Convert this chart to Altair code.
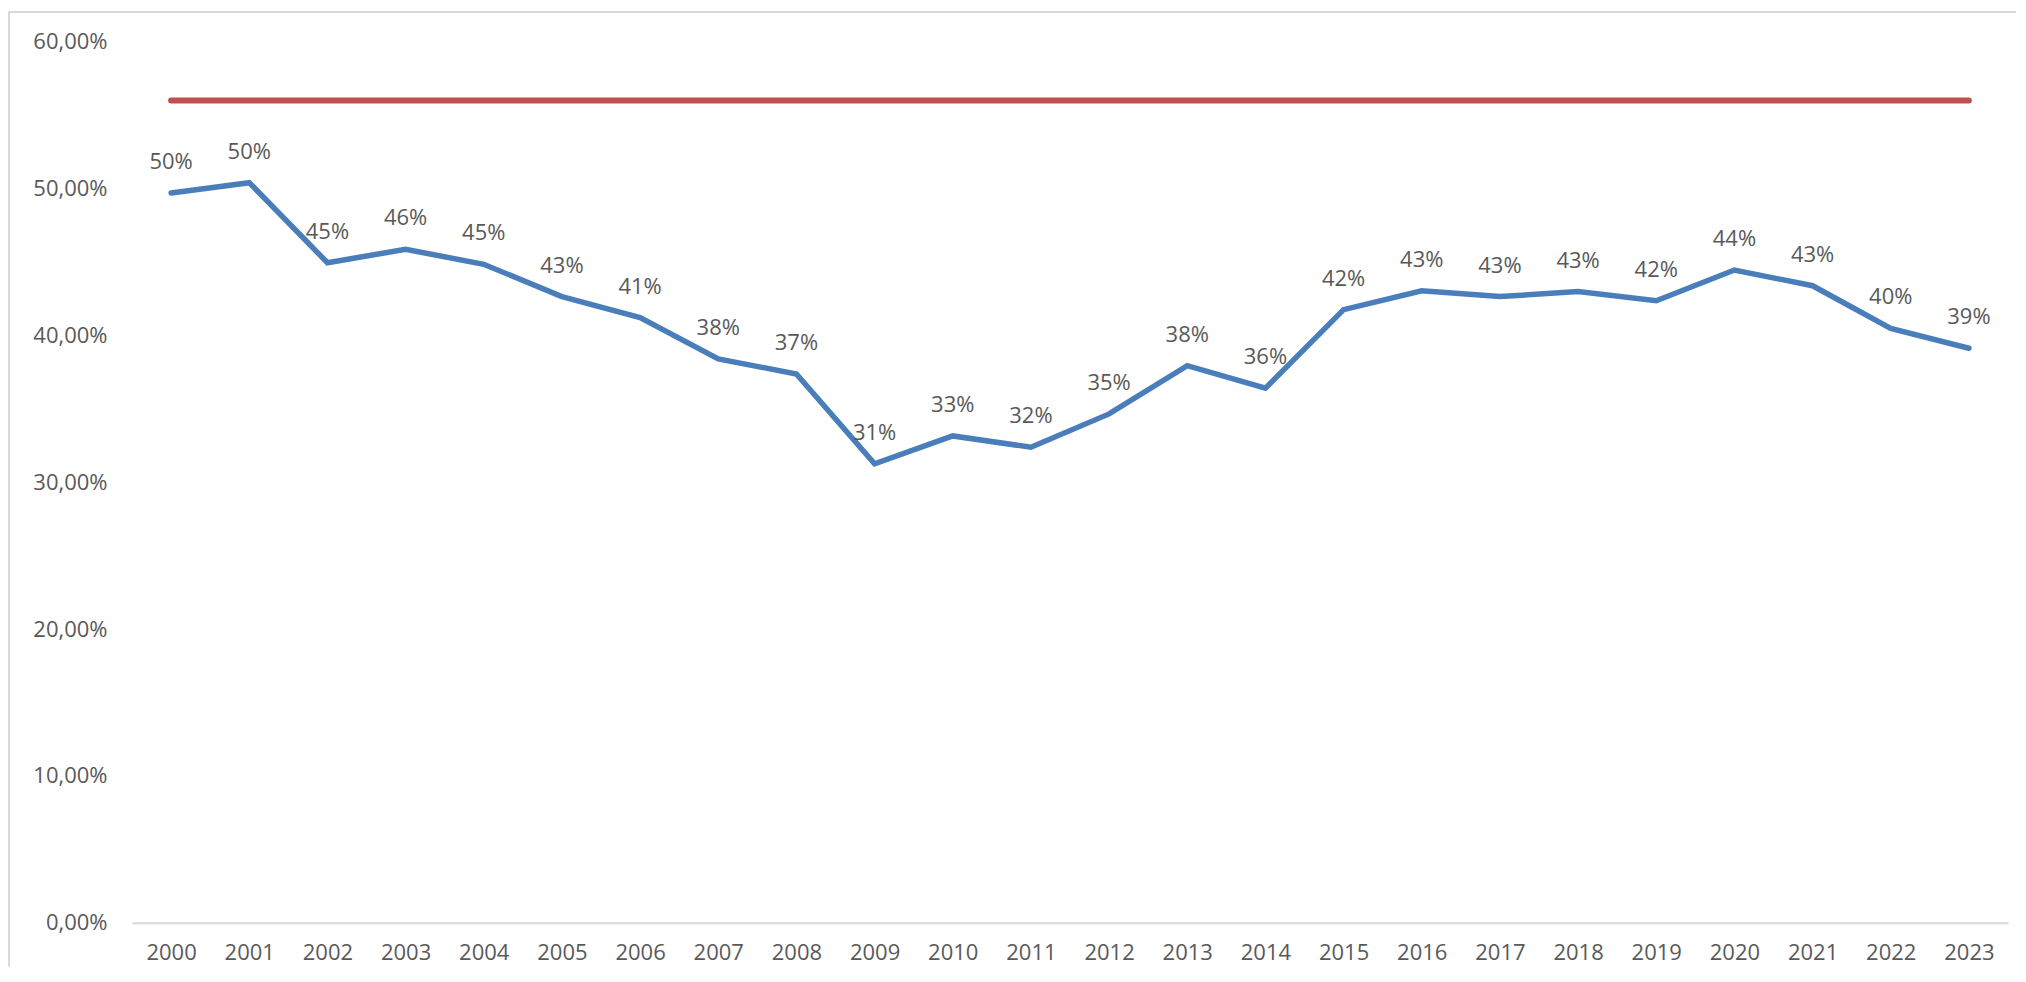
import altair as alt
import pandas as pd

years = [str(y) for y in range(2000, 2024)]
share = [49.7, 50.4, 44.95, 45.86, 44.84, 42.64, 41.21, 38.4, 37.37, 31.25,
         33.15, 32.38, 34.65, 37.94, 36.4, 41.75, 43.04, 42.64, 42.98, 42.36,
         44.45, 43.38, 40.48, 39.12]
reference = [56.0] * len(years)
y_ticks = [0, 10, 20, 30, 40, 50, 60]

df = pd.DataFrame({"year": years, "share": share, "reference": reference})

FONT = "Open Sans"
GRAY = "#595959"
LIGHT = "#D9D9D9"

x_enc = alt.X("year:O", sort=years,
              scale=alt.Scale(type="point", padding=0.5),
              axis=alt.Axis(title=None, labelAngle=0, ticks=False,
                            domainColor=LIGHT, domainWidth=2,
                            labelPadding=20, labelFontSize=22,
                            labelColor=GRAY, labelFont=FONT))
y_scale = alt.Scale(domain=[0, 60], nice=False, zero=True)
y_axis = alt.Axis(title=None, values=y_ticks, grid=False, domain=False,
                  ticks=False, labelPadding=25, labelFontSize=22,
                  labelColor=GRAY, labelFont=FONT,
                  labelExpr="replace(format(datum.value, '.2f'), '.', ',') + '%'")

base = alt.Chart(df)

ref_line = base.mark_line(color="#C0504D", strokeWidth=6, strokeCap="round").encode(
    x=x_enc,
    y=alt.Y("reference:Q", scale=y_scale, axis=y_axis),
)

main_line = base.mark_line(color="#4A7EBB", strokeWidth=5.5, strokeCap="round",
                           strokeJoin="miter").encode(
    x=x_enc,
    y=alt.Y("share:Q", scale=y_scale, axis=y_axis),
)

labels = base.transform_calculate(
    lbl="format(datum.share, '.0f') + '%'"
).mark_text(dy=-31, align="center", baseline="middle", fontSize=22,
            font=FONT, color=GRAY).encode(
    x=x_enc,
    y=alt.Y("share:Q", scale=y_scale, axis=y_axis),
    text="lbl:N",
)

top_border = alt.Chart(pd.DataFrame({"a": [0]})).mark_rule(
    color=LIGHT, strokeWidth=2).encode(
    x=alt.value(-124), x2=alt.value(1884), y=alt.value(-29.7))
left_border = alt.Chart(pd.DataFrame({"a": [0]})).mark_rule(
    color=LIGHT, strokeWidth=2).encode(
    x=alt.value(-123), y=alt.value(-29.7), y2=alt.value(925))

chart = alt.layer(top_border, left_border, ref_line, main_line, labels).properties(
    width=1876, height=881,
    background="white",
    autosize=alt.AutoSizeParams(type="none"),
    padding={"left": 124, "top": 33.7, "right": 10, "bottom": 45},
).configure_view(stroke=None, strokeWidth=0)

chart.save("out.html", embed_options={"renderer": "svg", "actions": False})
